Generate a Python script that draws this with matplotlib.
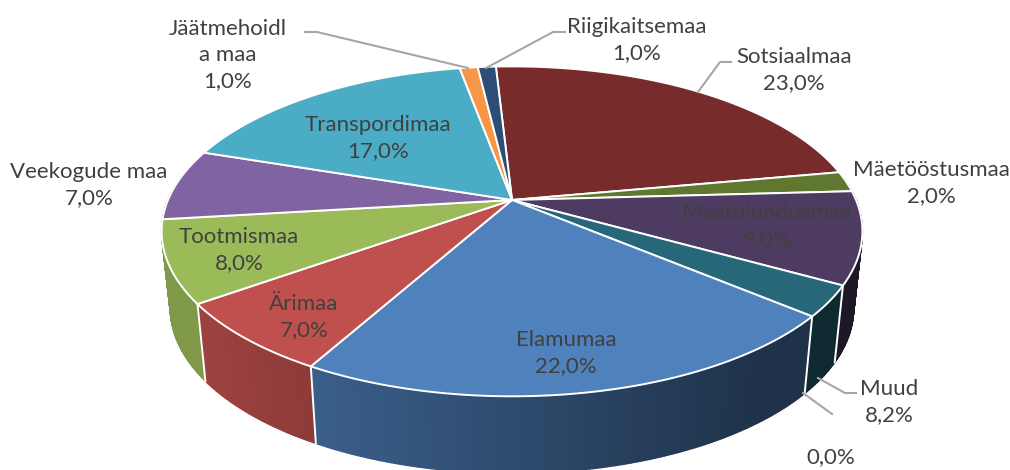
import numpy as np
import matplotlib
matplotlib.use("Agg")
import matplotlib.pyplot as plt
from matplotlib.colors import to_rgb

# slices, clockwise from the top
names = ["Sotsiaalmaa", "Mäetööstusmaa", "Maatulundusmaa", "Muud", "Elamumaa", "Ärimaa",
         "Tootmismaa", "Veekogude maa", "Transpordimaa", "Jäätmehoidla maa", "Riigikaitsemaa"]
values = [23.0, 2.0, 9.0, 3.0, 22.0, 7.0, 8.0, 7.0, 17.0, 1.0, 1.0]
colors = ["#772B2A", "#5F772F", "#4D3B62", "#26687A", "#4F81BD", "#C0504D",
          "#9BBB59", "#8064A2", "#4BACC6", "#F79646", "#2C4D75"]

label_texts = ["Sotsiaalmaa\n23,0%", "Mäetööstusmaa\n2,0%", "Maatulundusmaa\n9,0%", "Muud\n8,2%",
               "Elamumaa\n22,0%", "Ärimaa\n7,0%", "Tootmismaa\n8,0%", "Veekogude maa\n7,0%",
               "Transpordimaa\n17,0%", "Jäätmehoidl\na maa\n1,0%", "Riigikaitsemaa\n1,0%", "0,0%"]

label_pos = [(794, 70), (931, 183), (767, 226), (889, 402), (566, 353), (304, 317),
             (239, 250), (89, 185), (378, 138), (228, 55), (637, 40), (831, 457)]
leaders = [([698, 720, 731], [92, 62, 62]),
           ([818, 845, 856], [378, 393, 393]),
           ([803, 832], [393, 414]),
           ([305, 317, 468], [32, 32, 68]),
           ([486, 553, 565], [68, 32, 32])]

CX, CY = 512, 200
A, B, K = 344, 159, 0.19
START = -3.2


def project(deg, r=1.0, base=False):
    # pie is tilted, the far side comes out smaller than the near side
    t = np.radians(deg)
    X = r * np.sin(t)
    Y = r * np.cos(t)
    sx = A * X / (1 + K * Y)
    sy = -B * Y / (1 + K * Y)
    if base:
        return CX + 0.975 * sx, CY + sy + 77
    return CX + sx, CY + sy


def shade(c, x):
    # side wall gets darker to the right
    f = np.interp(x, [200, 760], [0.82, 0.39])
    return tuple(f * v for v in to_rgb(c))


fig = plt.figure(figsize=(10.1, 4.7), dpi=100)
ax = fig.add_axes([0, 0, 1, 1])
ax.set_xlim(0, 1010)
ax.set_ylim(470, 0)
ax.axis("off")

edges = START + np.cumsum([0] + values) * 3.6

# side wall first, back slices before front ones, the top covers the rest
mids = (edges[:-1] + edges[1:]) / 2
for i in np.argsort(-np.cos(np.radians(mids))):
    a0, a1 = edges[i], edges[i + 1]
    n = max(int((a1 - a0) * 2), 2)
    th = np.linspace(a0, a1, n + 1)
    for j in range(n):
        if np.cos(np.radians(th[j])) > 0.15:
            continue
        x0, y0 = project(th[j])
        x1, y1 = project(th[j + 1])
        x2, y2 = project(th[j + 1], base=True)
        x3, y3 = project(th[j], base=True)
        col = shade(colors[i], (x0 + x1) / 2)
        ax.fill([x0, x1, x2, x3], [y0, y1, y2, y3], color=col, lw=1.0, zorder=1)

for a in edges:
    if np.cos(np.radians(a)) < -0.3:
        x0, y0 = project(a)
        x1, y1 = project(a, base=True)
        ax.plot([x0, x1], [y0, y1], color="white", lw=1.4, zorder=2)

# top of the pie
for i in range(len(values)):
    th = np.linspace(edges[i], edges[i + 1], 80)
    xs, ys = project(th)
    xs = np.concatenate([[CX], xs])
    ys = np.concatenate([[CY], ys])
    ax.fill(xs, ys, facecolor=colors[i], edgecolor="white", lw=1.4, joinstyle="round", zorder=3)

for lx, ly in leaders:
    ax.plot(lx, ly, color="#A6A6A6", lw=1.5, zorder=4)

for txt, (x, y) in zip(label_texts, label_pos):
    ax.text(x, y, txt, ha="center", va="center", fontsize=16, family="Lato",
            color="#404040", linespacing=1.35, zorder=5)

plt.savefig("out.png", dpi=100)
